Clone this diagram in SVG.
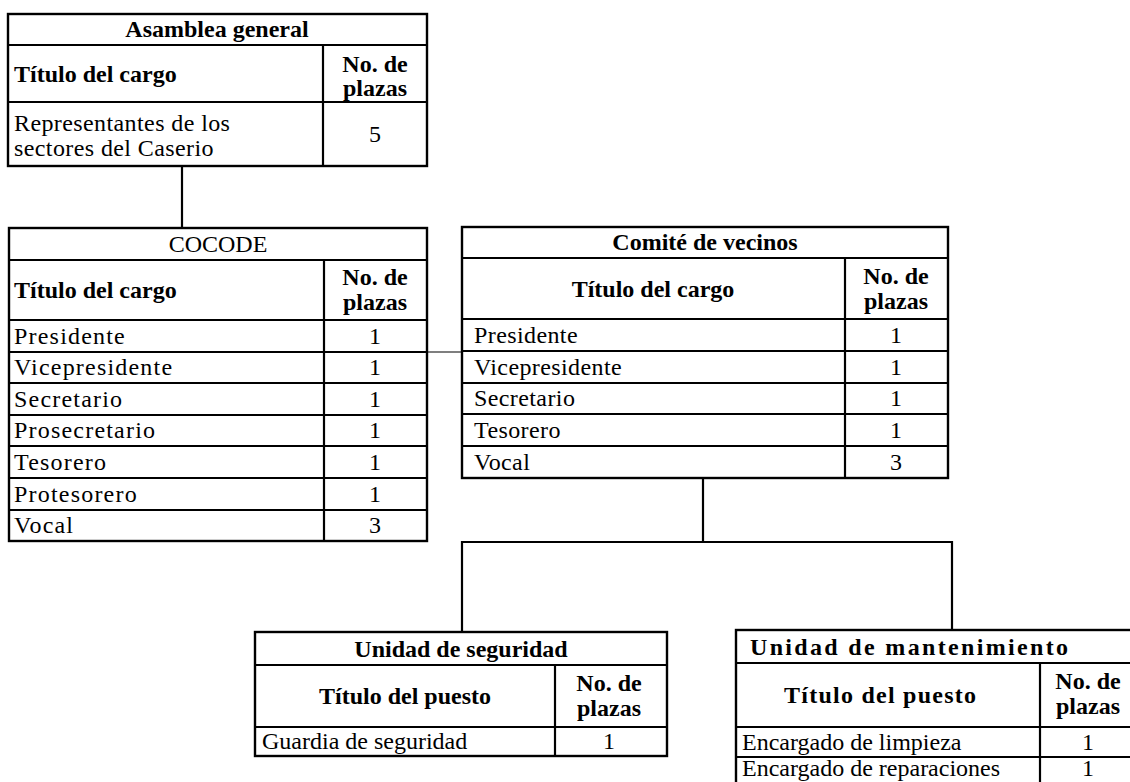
<svg xmlns="http://www.w3.org/2000/svg" width="1130" height="782" viewBox="0 0 1130 782">
<style>
.b{fill:none;stroke:#000;stroke-width:2.4}
.l{stroke:#000;stroke-width:2.2}
.c{stroke:#000;stroke-width:2.2;fill:none}
.t{font-family:"Liberation Serif","Times New Roman",serif;font-size:24px;fill:#000}
.h{font-family:"Liberation Serif","Times New Roman",serif;font-size:24px;font-weight:bold;fill:#000}
.m{text-anchor:middle}
.s1{letter-spacing:1.2px}
.s0{letter-spacing:0.4px}
</style>
<rect width="1130" height="782" fill="#fff"/>
<g id="connectors">
<line class="c" x1="182" y1="166" x2="182" y2="228"/>
<line x1="427" y1="352" x2="462" y2="352" stroke="#000" stroke-width="1.2"/>
<polyline class="c" points="703,478 703,542"/>
<polyline class="c" points="462,632 462,542 952,542 952,630"/>
</g>
<g id="asamblea">
<rect class="b" x="8" y="14" width="419" height="152"/>
<line class="l" x1="8" y1="45" x2="427" y2="45"/>
<line class="l" x1="8" y1="102" x2="427" y2="102"/>
<line class="l" x1="323" y1="45" x2="323" y2="166"/>
<text class="h m" x="217" y="37">Asamblea general</text>
<text class="h" x="14" y="82">Título del cargo</text>
<text class="h m" x="375" y="72">No. de</text>
<text class="h m" x="375" y="96">plazas</text>
<text class="t s0" x="14" y="131">Representantes de los</text>
<text class="t s0" x="14" y="156">sectores del Caserio</text>
<text class="t m" x="375" y="142">5</text>
</g>
<g id="cocode">
<rect class="b" x="9" y="228" width="418" height="313"/>
<line class="l" x1="9" y1="260" x2="427" y2="260"/>
<line class="l" x1="9" y1="320" x2="427" y2="320"/>
<line class="l" x1="9" y1="352" x2="427" y2="352"/>
<line class="l" x1="9" y1="383" x2="427" y2="383"/>
<line class="l" x1="9" y1="415" x2="427" y2="415"/>
<line class="l" x1="9" y1="446" x2="427" y2="446"/>
<line class="l" x1="9" y1="478" x2="427" y2="478"/>
<line class="l" x1="9" y1="510" x2="427" y2="510"/>
<line class="l" x1="324" y1="260" x2="324" y2="541"/>
<text class="t m" x="218" y="252">COCODE</text>
<text class="h" x="14" y="298">Título del cargo</text>
<text class="h m" x="375" y="285">No. de</text>
<text class="h m" x="375" y="310">plazas</text>
<text class="t s1" x="14" y="344">Presidente</text>
<text class="t s1" x="14" y="375">Vicepresidente</text>
<text class="t s1" x="14" y="407">Secretario</text>
<text class="t s1" x="14" y="438">Prosecretario</text>
<text class="t s1" x="14" y="470">Tesorero</text>
<text class="t s1" x="14" y="502">Protesorero</text>
<text class="t s1" x="14" y="533">Vocal</text>
<text class="t m" x="375" y="344">1</text>
<text class="t m" x="375" y="375">1</text>
<text class="t m" x="375" y="407">1</text>
<text class="t m" x="375" y="438">1</text>
<text class="t m" x="375" y="470">1</text>
<text class="t m" x="375" y="502">1</text>
<text class="t m" x="375" y="533">3</text>
</g>
<g id="comite">
<rect class="b" x="462" y="227" width="486" height="251"/>
<line class="l" x1="462" y1="258" x2="948" y2="258"/>
<line class="l" x1="462" y1="319" x2="948" y2="319"/>
<line class="l" x1="462" y1="351" x2="948" y2="351"/>
<line class="l" x1="462" y1="383" x2="948" y2="383"/>
<line class="l" x1="462" y1="414" x2="948" y2="414"/>
<line class="l" x1="462" y1="446" x2="948" y2="446"/>
<line class="l" x1="845" y1="258" x2="845" y2="478"/>
<text class="h m" x="705" y="250">Comité de vecinos</text>
<text class="h m" x="653" y="297">Título del cargo</text>
<text class="h m" x="896" y="284">No. de</text>
<text class="h m" x="896" y="309">plazas</text>
<text class="t s0" x="474" y="343">Presidente</text>
<text class="t s0" x="474" y="375">Vicepresidente</text>
<text class="t s0" x="474" y="406">Secretario</text>
<text class="t s0" x="474" y="438">Tesorero</text>
<text class="t s0" x="474" y="470">Vocal</text>
<text class="t m" x="896" y="343">1</text>
<text class="t m" x="896" y="375">1</text>
<text class="t m" x="896" y="406">1</text>
<text class="t m" x="896" y="438">1</text>
<text class="t m" x="896" y="470">3</text>
</g>
<g id="seguridad">
<rect class="b" x="255" y="632" width="412" height="124"/>
<line class="l" x1="255" y1="665" x2="667" y2="665"/>
<line class="l" x1="255" y1="727" x2="667" y2="727"/>
<line class="l" x1="555" y1="665" x2="555" y2="756"/>
<text class="h m" x="461" y="657">Unidad de seguridad</text>
<text class="h m" x="405" y="704">Título del puesto</text>
<text class="h m" x="609" y="691">No. de</text>
<text class="h m" x="609" y="716">plazas</text>
<text class="t" x="262" y="749">Guardia de seguridad</text>
<text class="t m" x="609" y="749">1</text>
</g>
<g id="mantenimiento">
<rect class="b" x="736" y="630" width="398" height="157"/>
<line class="l" x1="736" y1="663" x2="1134" y2="663"/>
<line class="l" x1="736" y1="727" x2="1134" y2="727"/>
<line class="l" x1="736" y1="757" x2="1134" y2="757"/>
<line class="l" x1="1040" y1="663" x2="1040" y2="787"/>
<text class="h" x="750" y="655" textLength="318" lengthAdjust="spacing">Unidad de mantenimiento</text>
<text class="h m" x="880" y="703" textLength="192" lengthAdjust="spacing">Título del puesto</text>
<text class="h m" x="1088" y="689">No. de</text>
<text class="h m" x="1088" y="714">plazas</text>
<text class="t" x="742" y="750">Encargado de limpieza</text>
<text class="t m" x="1088" y="750">1</text>
<text class="t" x="742" y="776" font-size="23">Encargado de reparaciones</text>
<text class="t m" x="1088" y="776">1</text>
</g>
</svg>
